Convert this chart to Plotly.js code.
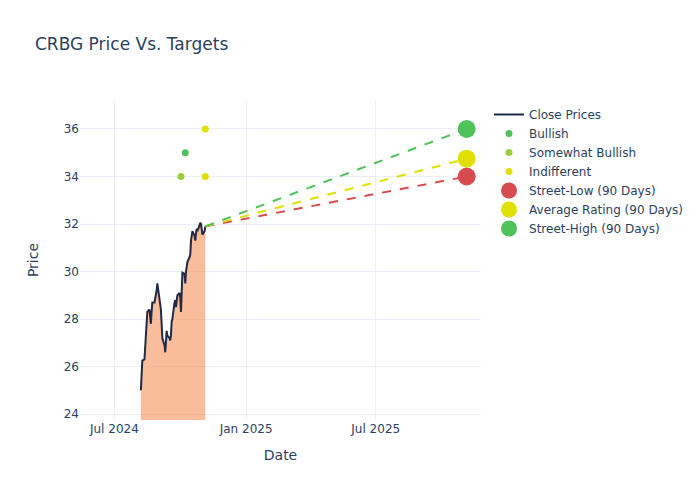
<!DOCTYPE html>
<html>
<head>
<meta charset="utf-8">
<script src="https://cdn.plot.ly/plotly-3.0.1.min.js"></script>
<style>html,body{margin:0;padding:0;}#chart{width:700px;height:500px;}</style>
</head>
<body>
<div id="chart"></div>
<script>
const closeDates = ["2024-08-07","2024-08-08","2024-08-09","2024-08-12","2024-08-13","2024-08-14","2024-08-15","2024-08-16","2024-08-19","2024-08-20","2024-08-21","2024-08-22","2024-08-23","2024-08-26","2024-08-27","2024-08-28","2024-08-29","2024-08-30","2024-09-03","2024-09-04","2024-09-05","2024-09-06","2024-09-09","2024-09-10","2024-09-11","2024-09-12","2024-09-13","2024-09-16","2024-09-17","2024-09-18","2024-09-19","2024-09-20","2024-09-23","2024-09-24","2024-09-25","2024-09-26","2024-09-27","2024-09-30","2024-10-01","2024-10-02","2024-10-03","2024-10-04","2024-10-07","2024-10-08","2024-10-09","2024-10-10","2024-10-11","2024-10-14","2024-10-15","2024-10-16","2024-10-17","2024-10-18","2024-10-21","2024-10-22","2024-10-23","2024-10-24","2024-10-25","2024-10-28","2024-10-29","2024-10-30","2024-10-31","2024-11-01","2024-11-04","2024-11-05"];
const closePrices = [25.0,25.6,26.25,26.3,26.8,27.6,28.2,28.3,28.4,28.2,27.8,28.3,28.7,28.7,28.85,29.0,29.2,29.5,28.7,28.4,27.8,27.2,26.9,26.6,27.0,27.5,27.3,27.2,27.1,27.3,27.9,28.0,28.7,28.8,28.5,28.9,29.0,29.1,28.9,28.3,29.0,29.95,29.9,29.5,30.0,30.3,30.4,30.6,30.7,31.3,31.7,31.7,31.5,31.3,31.6,31.8,31.7,31.95,32.05,32.0,31.6,31.55,31.7,31.9];

const bullishDates = ["2024-10-08"];
const bullishTargets = [35];
const somewhatBullishDates = ["2024-10-02"];
const somewhatBullishTargets = [34];
const indifferentDates = ["2024-11-05","2024-11-05"];
const indifferentTargets = [36,34];

const targetStartDate = "2024-11-05";
const targetEndDate = "2025-11-05";
const lastClose = 31.9;
const streetLow = 34;
const averageRating = 34.75;
const streetHigh = 36;

const RED = "#D64B50", YELLOW = "#E0E000", GREEN = "#4FC35A", YG = "#9ACD32";

const traces = [
  {x: closeDates, y: closePrices, type: "scatter", mode: "lines", fill: "tozeroy",
   fillcolor: "rgba(246,124,58,0.5)", line: {width: 0, color: "rgba(0,0,0,0)"}, showlegend: false, hoverinfo: "skip"},
  {x: closeDates, y: closePrices, type: "scatter", mode: "lines", name: "Close Prices",
   line: {color: "#1f2a44", width: 2}},
  {x: bullishDates, y: bullishTargets, type: "scatter", mode: "markers", name: "Bullish",
   marker: {color: GREEN, size: 7}},
  {x: somewhatBullishDates, y: somewhatBullishTargets, type: "scatter", mode: "markers", name: "Somewhat Bullish",
   marker: {color: YG, size: 7}},
  {x: indifferentDates, y: indifferentTargets, type: "scatter", mode: "markers", name: "Indifferent",
   marker: {color: YELLOW, size: 7}},
  {x: [targetStartDate, targetEndDate], y: [lastClose, streetLow], type: "scatter", mode: "lines",
   line: {color: RED, dash: "dash", width: 2}, showlegend: false},
  {x: [targetStartDate, targetEndDate], y: [lastClose, averageRating], type: "scatter", mode: "lines",
   line: {color: YELLOW, dash: "dash", width: 2}, showlegend: false},
  {x: [targetStartDate, targetEndDate], y: [lastClose, streetHigh], type: "scatter", mode: "lines",
   line: {color: GREEN, dash: "dash", width: 2}, showlegend: false},
  {x: [targetEndDate], y: [streetLow], type: "scatter", mode: "markers", name: "Street-Low (90 Days)",
   marker: {color: RED, size: 18}},
  {x: [targetEndDate], y: [averageRating], type: "scatter", mode: "markers", name: "Average Rating (90 Days)",
   marker: {color: YELLOW, size: 18}},
  {x: [targetEndDate], y: [streetHigh], type: "scatter", mode: "markers", name: "Street-High (90 Days)",
   marker: {color: GREEN, size: 18}}
];

const layout = {
  width: 700, height: 500,
  paper_bgcolor: "white", plot_bgcolor: "white",
  font: {family: "DejaVu Sans, sans-serif", color: "#2a3f5f"},
  title: {text: "CRBG Price Vs. Targets", x: 0.05, font: {size: 17}},
  xaxis: {title: {text: "Date", standoff: 15}, automargin: true, type: "date", range: ["2024-05-14", "2025-11-25"],
    dtick: "M6", tick0: "2024-07-01", tickformat: "%b %Y", gridcolor: "#EBF0F8", zeroline: false, showline: false},
  yaxis: {title: {text: "Price", standoff: 21}, automargin: true, range: [23.75, 37.22], gridcolor: "#EBF0F8", zeroline: false,
    dtick: 2},
  legend: {font: {size: 12}},
  margin: {l: 80, r: 80, t: 100, b: 80}
};

Plotly.newPlot("chart", traces, layout, {displayModeBar: false});
</script>
</body>
</html>
